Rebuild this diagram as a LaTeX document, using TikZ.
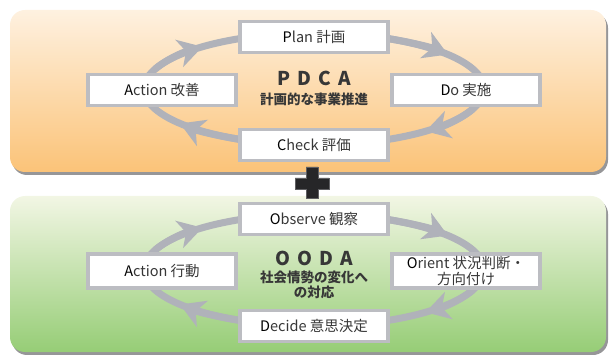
\documentclass[tikz,border=0pt]{standalone}
\usepackage{fontspec}
\setmainfont{Noto Sans CJK JP}
\usetikzlibrary{arrows.meta,calc}
\definecolor{ringc}{RGB}{176,178,186}
\definecolor{boxline}{RGB}{188,189,194}
\definecolor{txt}{RGB}{55,55,55}
\definecolor{orTop}{RGB}{254,241,224}
\definecolor{orBot}{RGB}{251,195,120}
\definecolor{grTop}{RGB}{242,246,228}
\definecolor{grBot}{RGB}{150,205,118}
\definecolor{shadowc}{RGB}{150,150,152}
\definecolor{plusc}{RGB}{38,38,40}
\definecolor{plusedge}{RGB}{95,95,98}
\newcommand{\fl}[1]{{\color{black}#1}}
\tikzset{
  panel/.style={rounded corners=15pt},
  ringline/.style={draw=ringc, line width=7pt},
  ringarrow/.style={draw=ringc, line width=7pt, -{Stealth[length=24pt,width=28pt,inset=7pt]}},
  stagebox/.style={draw=boxline, line width=3.5pt, fill=white, minimum width=148pt,
    minimum height=31pt, inner sep=0pt, text=txt, align=center,
    font=\fontsize{14.5}{16}\selectfont},
  bigtitle/.style={text=txt, font=\fontsize{19}{20}\selectfont\bfseries, inner sep=0pt},
  subtitle/.style={text=txt, font=\fontsize{13.5}{15.5}\selectfont\bfseries, inner sep=0pt, align=center}
}
\begin{document}
\begin{tikzpicture}[x=1pt,y=-1pt]
\useasboundingbox (0,0) rectangle (610,355);
% top panel
\fill[panel, shadowc] (12,13) rectangle (608,175);
\shade[panel, top color=orTop, bottom color=orBot] (10,10) rectangle (606,172);
% bottom panel
\fill[panel, shadowc] (12,199) rectangle (608,355);
\shade[panel, top color=grTop, bottom color=grBot] (10,196) rectangle (606,352);

% rings
\foreach \cy/\nm in {89/t, 270/b}{
  \coordinate (c\nm) at (314,\cy);
  \draw[ringline] (c\nm) ellipse [x radius=170, y radius=56];
  \foreach \e in {-38,49,142,229}{
    \draw[ringarrow] ($(c\nm)+({\e-28}:170 and 56)$) arc [start angle={\e-28}, end angle=\e, x radius=170, y radius=56];
  }
}

% PDCA boxes
\node[stagebox] (plan) at (314,37) {\fl{P}lan 計画};
\node[stagebox] (act1) at (162,90) {\fl{A}ction 改善};
\node[stagebox] (do) at (466,90) {\fl{D}o 実施};
\node[stagebox] (check) at (314,145) {\fl{C}heck 評価};
\node[bigtitle] (pdca) at (314,78) {P\hspace{7pt}D\hspace{7pt}C\hspace{7pt}A};
\node[subtitle] (pdcasub) at (314,99) {計画的な事業推進};

% plus sign
\filldraw[fill=plusc, draw=plusedge, line width=0.8pt]
  (306,167)--(318,167)--(318,178)--(329,178)--(329,189)--(318,189)--(318,198)
  --(306,198)--(306,189)--(295,189)--(295,178)--(306,178)--cycle;

% OODA boxes
\node[stagebox] (obs) at (314,219) {\fl{O}bserve 観察};
\node[stagebox, minimum height=34pt] (act2) at (162,271) {\fl{A}ction 行動};
\node[stagebox, minimum height=34pt] (orient) at (466,271) {\fl{O}rient 状況判断・\\方向付け};
\node[stagebox] (decide) at (314,326) {\fl{D}ecide 意思決定};
\node[bigtitle] (ooda) at (314,258) {O\hspace{7pt}O\hspace{7pt}D\hspace{7pt}A};
\node[subtitle] (oodasub) at (314,285) {社会情勢の変化へ\\の対応};
\end{tikzpicture}
\end{document}
